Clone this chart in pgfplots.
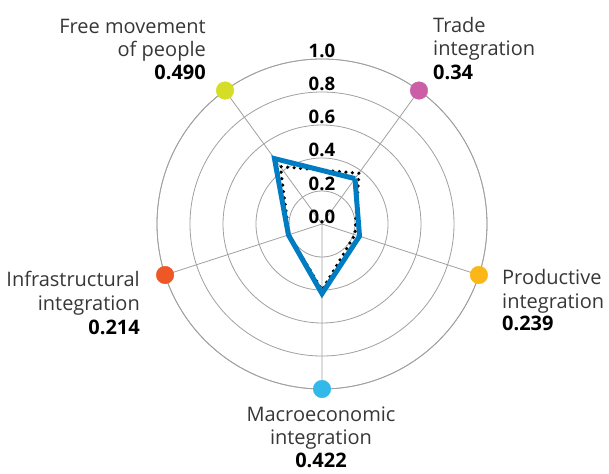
\documentclass[border=0pt]{standalone}
\usepackage{fontspec}
\setmainfont{Open Sans}
\usepackage{pgfplots}
\pgfplotsset{compat=1.18}
\usepgfplotslibrary{polar}
\definecolor{gridgray}{RGB}{160,160,160}
\definecolor{lineblue}{RGB}{0,124,194}
\definecolor{cyel}{RGB}{213,221,38}
\definecolor{cpink}{RGB}{204,94,168}
\definecolor{corange}{RGB}{238,88,38}
\definecolor{cgold}{RGB}{251,182,23}
\definecolor{csky}{RGB}{51,185,233}
\definecolor{txt}{RGB}{55,55,55}
\begin{document}
\begin{tikzpicture}[x=1pt,y=1pt]
\begin{polaraxis}[
  at={(0,0)}, anchor=center,
  scale only axis, width=330pt, height=330pt,
  xmin=0, xmax=360, ymin=0, ymax=1,
  xtick={54,126,198,270,342},
  ytick={0.2,0.4,0.6,0.8,1.0},
  xticklabels={}, yticklabels={},
  major tick length=0pt,
  xmajorgrids, ymajorgrids,
  grid style={gridgray, line width=0.8pt},
  axis line style={gridgray, line width=0.8pt},
  y axis line style={draw=none},
  clip=false,
]
% reference (dotted) series
\addplot[black, line width=3.6pt, dash pattern=on 0pt off 6.5pt, line cap=round, no marks]
  coordinates {(54,0.38) (126,0.43) (198,0.21) (270,0.40) (342,0.21) (54,0.38)};
% main series
\addplot[lineblue, line width=5pt, line join=miter, no marks]
  coordinates {(54,0.34) (126,0.490) (198,0.214) (270,0.422) (342,0.239) (54,0.34)};
% coloured end dots
\addplot[only marks, mark=*, mark size=8.8pt, cpink, mark options={draw=none, fill=cpink}] coordinates {(54,1)};
\addplot[only marks, mark=*, mark size=8.8pt, cyel, mark options={draw=none, fill=cyel}] coordinates {(126,1)};
\addplot[only marks, mark=*, mark size=8.8pt, corange, mark options={draw=none, fill=corange}] coordinates {(198,1)};
\addplot[only marks, mark=*, mark size=8.8pt, csky, mark options={draw=none, fill=csky}] coordinates {(270,1)};
\addplot[only marks, mark=*, mark size=8.8pt, cgold, mark options={draw=none, fill=cgold}] coordinates {(342,1)};
% radial tick labels
\foreach \r/\t in {0/0.0,0.2/0.2,0.4/0.4,0.6/0.6,0.8/0.8,1/1.0}{
  \edef\temp{\noexpand\node[anchor=base, inner sep=0pt, yshift=1pt, font=\noexpand\fontsize{18.6}{22}\noexpand\selectfont\noexpand\bfseries] at (axis cs:90,\r) {\t};}
  \temp
}
\end{polaraxis}
\tikzset{lab/.style={inner sep=0pt, text=txt, font=\fontsize{20}{24}\selectfont},
         val/.style={inner sep=0pt, text=black, font=\fontsize{20}{24}\selectfont\bfseries}}
% Free movement of people
\node[lab, anchor=base east] at (-116,190.7) {Free movement};
\node[lab, anchor=base east] at (-116,167.3) {of people};
\node[val, anchor=base east] at (-116,144) {0.490};
% Trade integration
\node[lab, anchor=base west] at (111,191.5) {Trade};
\node[lab, anchor=base west] at (111,168) {integration};
\node[val, anchor=base west] at (111,144.5) {0.34};
% Infrastructural integration
\node[lab, anchor=base east] at (-182,-62.7) {Infrastructural};
\node[lab, anchor=base east] at (-182,-86) {integration};
\node[val, anchor=base east] at (-182,-110) {0.214};
% Productive integration
\node[lab, anchor=base west] at (180,-61) {Productive};
\node[lab, anchor=base west] at (180,-84.3) {integration};
\node[val, anchor=base west] at (180,-106.5) {0.239};
% Macroeconomic integration
\node[lab, anchor=base] at (-1,-197.5) {Macroeconomic};
\node[lab, anchor=base] at (-1,-220) {integration};
\node[val, anchor=base] at (-1,-243.5) {0.422};
\pgfresetboundingbox
\useasboundingbox (-322,-249) rectangle (287,224);
\end{tikzpicture}
\end{document}
